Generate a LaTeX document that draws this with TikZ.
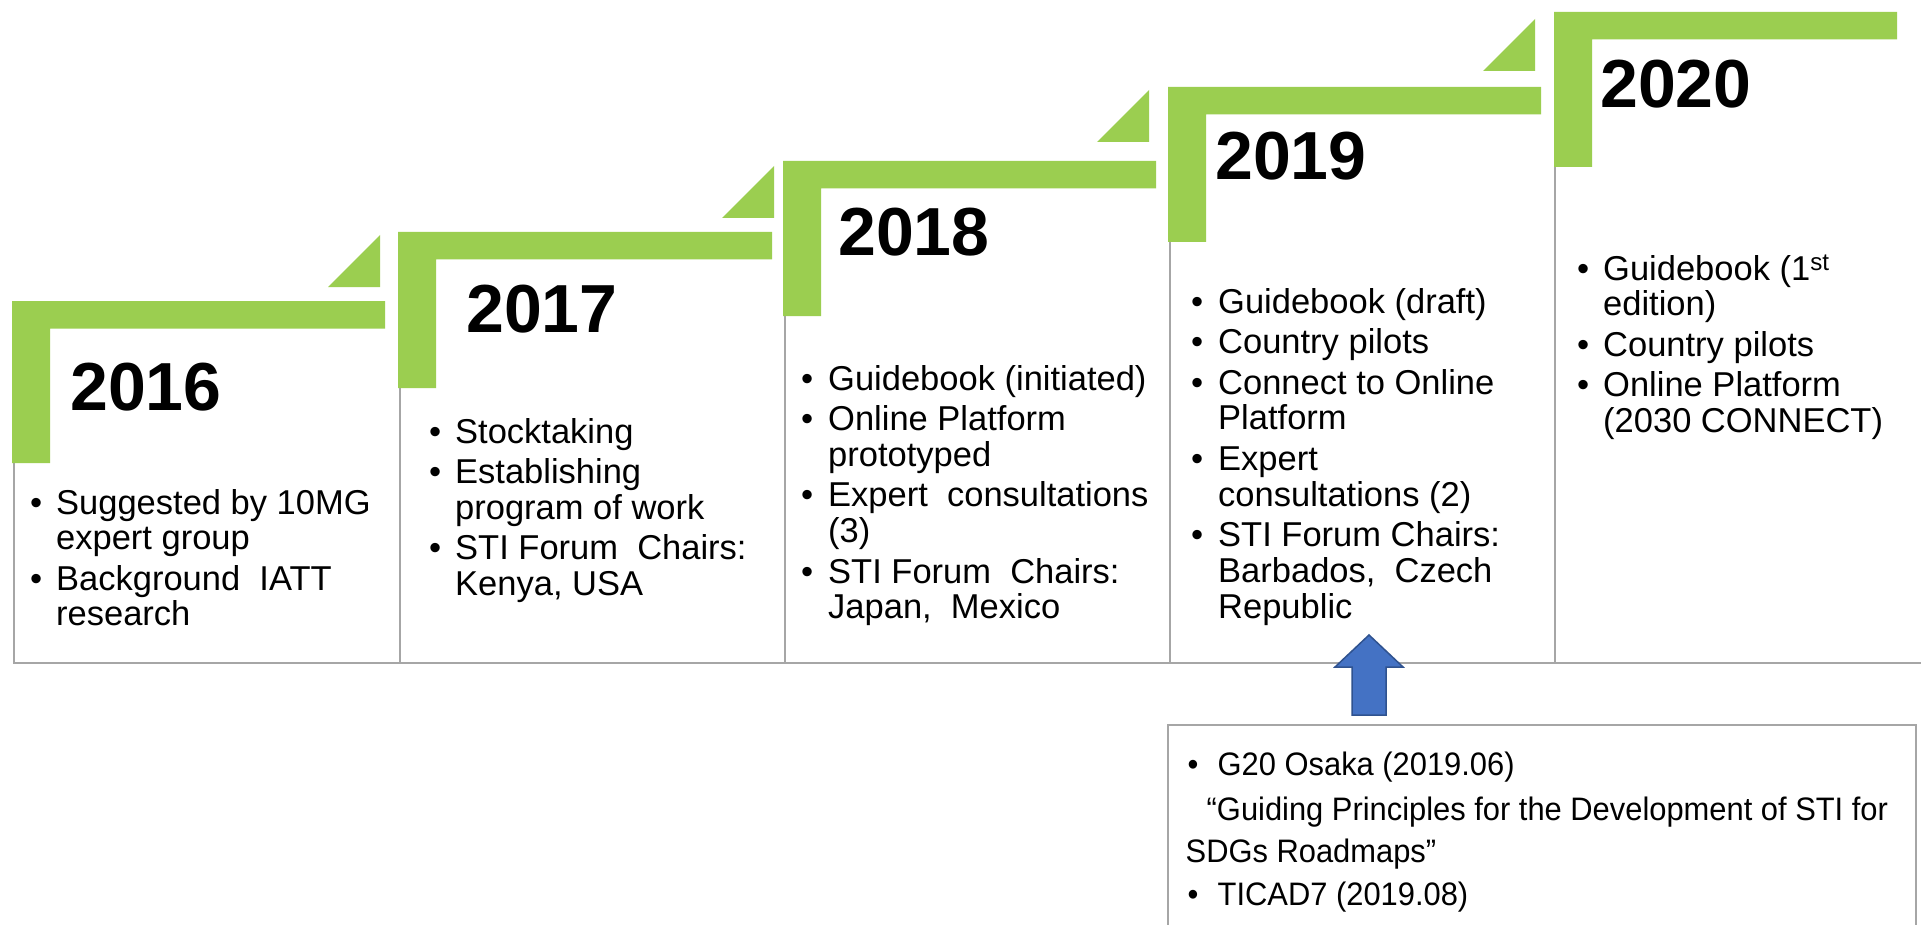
\documentclass[tikz,border=0pt]{standalone}
\usepackage{fontspec}
\setmainfont{Liberation Sans}
\newfontfamily\boxfont{Liberation Sans}[FakeStretch=0.95]
\usepackage{array}
\definecolor{stepgreen}{RGB}{155,206,80}
\definecolor{arrowblue}{RGB}{68,114,196}
\definecolor{arrowedge}{RGB}{47,82,143}
\definecolor{linegrey}{RGB}{166,166,166}
\newcommand\bulA{\makebox[26pt][l]{\textbullet}}
\newcommand\bulB{\makebox[27pt][l]{\textbullet}}
\newcommand\bulC{\makebox[30pt][l]{\textbullet}}
\newcommand\stepshape[4]{%
  \fill[stepgreen] (#1,#2) -- (#3,#2) -- (#3,#2+27.5) -- (#1+38,#2+27.5)
    -- (#1+38,#4) -- (#1,#4) -- cycle;}
\newcommand\steptri[2]{%
  \fill[stepgreen] (#1,#2) -- (#1,#2+52) -- (#1-52,#2+52) -- cycle;}
\begin{document}
\begin{tikzpicture}[x=1pt,y=-1pt,
  year/.style={anchor=base west, inner sep=0pt, font=\fontsize{68}{80}\selectfont\bfseries},
  items/.style={anchor=base west, inner sep=0pt, font=\fontsize{34.5}{35.5}\selectfont},
  boxtext/.style={anchor=base west, inner sep=0pt, font=\boxfont\fontsize{32.5}{42.5}\selectfont},
  colline/.style={draw=linegrey, line width=1.8pt}]
\useasboundingbox (0,0) rectangle (1921,925);
\fill[white] (0,0) rectangle (1921,925);

% grey column lines
\draw[colline] (14,463) -- (14,663);
\draw[colline] (400,388) -- (400,663);
\draw[colline] (785,316) -- (785,663);
\draw[colline] (1170,242) -- (1170,663);
\draw[colline] (1555,167) -- (1555,663);
\draw[colline] (13,663) -- (1921,663);

% green steps
\stepshape{12}{301}{385}{463}
\stepshape{398}{232}{772}{388}
\stepshape{783}{161}{1156}{316}
\stepshape{1168}{87}{1541}{242}
\stepshape{1554}{12}{1897}{167}
\steptri{380}{235}
\steptri{774}{166}
\steptri{1149}{90}
\steptri{1535}{19}

% years
\node[year] (y2016) at (70,410) {2016};
\node[year] (y2017) at (466,332) {2017};
\node[year] (y2018) at (838,255) {2018};
\node[year] (y2019) at (1215,180) {2019};
\node[year] (y2020) at (1600,108) {2020};

% lists
\node[items] (l2016) at (30,514) {\begin{tabular}[t]{@{}l@{}l@{}}
\bulA & Suggested by 10MG\\
 & expert group\\[5pt]
\bulA & Background~~IATT\\
 & research
\end{tabular}};
\node[items] (l2017) at (429,443) {\begin{tabular}[t]{@{}l@{}l@{}}
\bulA & Stocktaking\\[5pt]
\bulA & Establishing\\
 & program of work\\[5pt]
\bulA & STI Forum~~Chairs:\\
 & Kenya, USA
\end{tabular}};
\node[items] (l2018) at (801,390) {\begin{tabular}[t]{@{}l@{}l@{}}
\bulB & Guidebook (initiated)\\[5pt]
\bulB & Online Platform\\
 & prototyped\\[5pt]
\bulB & Expert~~consultations\\
 & (3)\\[5pt]
\bulB & STI Forum~~Chairs:\\
 & Japan,~~Mexico
\end{tabular}};
\node[items] (l2019) at (1191,313) {\begin{tabular}[t]{@{}l@{}l@{}}
\bulB & Guidebook (draft)\\[5pt]
\bulB & Country pilots\\[5pt]
\bulB & Connect to Online\\
 & Platform\\[5pt]
\bulB & Expert\\
 & consultations (2)\\[5pt]
\bulB & STI Forum Chairs:\\
 & Barbados,~~Czech\\
 & Republic
\end{tabular}};
\node[items] (l2020) at (1577,280) {\begin{tabular}[t]{@{}l@{}l@{}}
\bulA & Guidebook (1\textsuperscript{st}\\
 & edition)\\[5pt]
\bulA & Country pilots\\[5pt]
\bulA & Online Platform\\
 & (2030 CONNECT)
\end{tabular}};

% lower box
\draw[draw=linegrey, line width=1.8pt, fill=white] (1168,940) -- (1168,725) -- (1916,725) -- (1916,940);
\node[boxtext] (events) at (1185.5,775) {\begin{tabular}[t]{@{}l@{}}
\hspace*{2pt}\bulC G20 Osaka (2019.06)\\[2.5pt]
\hspace*{21pt}“Guiding Principles for the Development of STI for\\
SDGs Roadmaps”\\[0.5pt]
\hspace*{2pt}\bulC TICAD7 (2019.08)
\end{tabular}};

% block arrow
\coordinate (arrtip) at (1369,635);
\coordinate (arrbase) at (1369,715);
\fill[arrowblue, draw=arrowedge, line width=1.5pt]
  (1352,715) -- (1352,667) -- (1335,667) -- (arrtip) -- (1403,667) -- (1386,667) -- (1386,715) -- cycle;
\end{tikzpicture}
\end{document}
